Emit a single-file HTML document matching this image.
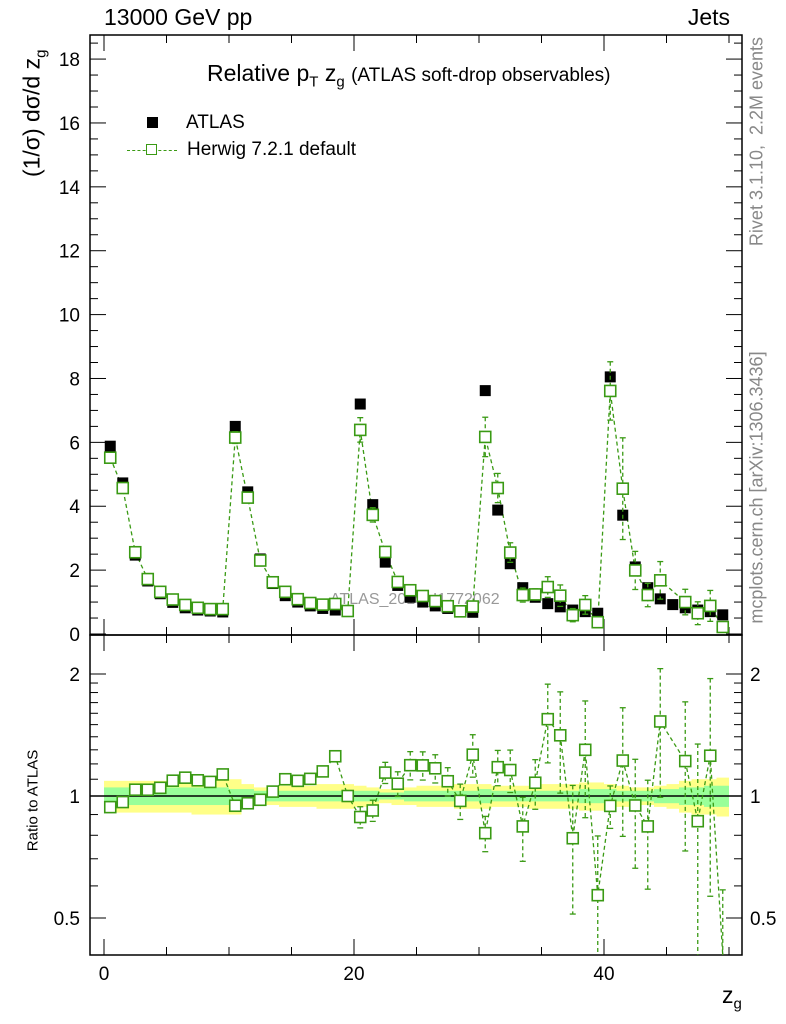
<!DOCTYPE html>
<html><head><meta charset="utf-8"><style>
html,body{margin:0;background:#fff;width:786px;height:1024px;overflow:hidden}
svg{display:block;font-family:"Liberation Sans",sans-serif}
</style></head><body>
<svg id="c" width="786" height="1024"></svg>
<script>
const bins=[];for(let i=0;i<50;i++)bins.push(i+0.5);
const atlas=[5.88,4.73,2.47,1.66,1.26,0.99,0.82,0.75,0.72,0.69,
6.5,4.45,2.35,1.58,1.2,1.0,0.88,0.8,0.75,0.72,
7.2,4.05,2.25,1.52,1.15,1.0,0.88,0.8,0.73,0.68,
7.62,3.88,2.2,1.45,1.15,0.95,0.85,0.75,0.7,0.65,
8.05,3.72,2.1,1.45,1.1,0.92,0.82,0.75,0.7,0.6];
const herwig=[5.52,4.57,2.56,1.72,1.32,1.08,0.91,0.82,0.78,0.78,
6.15,4.27,2.30,1.62,1.32,1.09,0.97,0.92,0.94,0.72,
6.39,3.73,2.57,1.63,1.37,1.19,1.03,0.87,0.71,0.86,
6.17,4.57,2.55,1.22,1.24,1.47,1.2,0.59,0.91,0.37,
7.61,4.55,1.99,1.22,1.68,null,1.0,0.65,0.88,0.22];
const herwigRelErr=[0.02,0.02,0.02,0.02,0.02,0.02,0.02,0.02,0.02,0.02,
0.03,0.03,0.03,0.03,0.03,0.03,0.03,0.03,0.03,0.03,
0.06,0.06,0.06,0.07,0.08,0.08,0.08,0.08,0.1,0.12,
0.1,0.1,0.12,0.18,0.14,0.22,0.28,0.35,0.32,0.4,
0.12,0.35,0.3,0.3,0.35,0,0.4,0.55,0.55,0.6];
const bandInner=[0.05,0.05,0.05,0.05,0.05,0.05,0.05,0.05,0.05,0.05,
0.04,0.04,0.03,0.03,0.03,0.03,0.03,0.03,0.03,0.03,
0.03,0.03,0.02,0.02,0.03,0.03,0.03,0.03,0.03,0.03,
0.04,0.03,0.03,0.03,0.03,0.03,0.03,0.03,0.04,0.04,
0.04,0.03,0.03,0.03,0.04,0.04,0.05,0.05,0.06,0.06];
const bandOuter=[0.09,0.09,0.09,0.09,0.09,0.09,0.09,0.1,0.1,0.1,
0.1,0.07,0.05,0.05,0.06,0.06,0.06,0.07,0.07,0.07,
0.06,0.05,0.04,0.05,0.05,0.06,0.06,0.06,0.07,0.07,
0.07,0.06,0.06,0.06,0.07,0.07,0.07,0.07,0.08,0.08,
0.07,0.06,0.05,0.05,0.06,0.07,0.09,0.1,0.1,0.11];
const yTicks=[0,2,4,6,8,10,12,14,16,18];
const xTicks=[0,20,40];
const rTicks=[0.5,1,2];

const svg=document.getElementById('c');
const NS='http://www.w3.org/2000/svg';
function mk(t,a,p){const e=document.createElementNS(NS,t);for(const k in a)e.setAttribute(k,a[k]);(p||svg).appendChild(e);return e;}
const L=90,R=742,T=35,M=635,B=955;
const X=v=>104+12.5*v;
const Y=v=>634-31.94*v;
const RY0=r=>796-122*Math.log2(r);
const RY=r=>Math.min(B,Math.max(M,RY0(r)));
const G='#3a9a14';
for(let i=0;i<50;i++){
 let r=mk('rect',{x:X(i),y:RY(1+bandOuter[i]),width:12.5,height:RY(1-bandOuter[i])-RY(1+bandOuter[i]),fill:'#ffff88'});
 
 let g=mk('rect',{x:X(i),y:RY(1+bandInner[i]),width:12.5,height:RY(1-bandInner[i])-RY(1+bandInner[i]),fill:'#99ff99'});
 
}
mk('line',{x1:L,x2:R,y1:RY(1),y2:RY(1),stroke:'#000','stroke-width':1.5});
const f1=mk('rect',{x:L,y:T,width:R-L,height:M-T,fill:'none',stroke:'#000','stroke-width':1.5});

const f2=mk('rect',{x:L,y:M,width:R-L,height:B-M,fill:'none',stroke:'#000','stroke-width':1.5});

for(let v=0;v<=18.7;v+=0.5){const maj=Math.abs(v%2)<1e-6;const len=maj?16:8;
 mk('line',{x1:L,x2:L+len,y1:Y(v),y2:Y(v),stroke:'#000'});mk('line',{x1:R-len,x2:R,y1:Y(v),y2:Y(v),stroke:'#000'});}
yTicks.forEach(v=>{const t=mk('text',{x:80,y:Y(v)+7,'text-anchor':'end','font-size':19});t.textContent=v;
 });
for(let v=0;v<=50;v+=5){const maj=v%20===0;const len=maj?16:8;
 [[M,-1],[B,-1],[T,1]].forEach(([y0,d])=>{mk('line',{x1:X(v),x2:X(v),y1:y0,y2:y0+d*len,stroke:'#000'});});
 mk('line',{x1:X(v),x2:X(v),y1:M,y2:M+len,stroke:'#000'});}
xTicks.forEach(v=>{const t=mk('text',{x:X(v),y:980,'text-anchor':'middle','font-size':19});t.textContent=v;
 });
[0.5,0.6,0.7,0.8,0.9,1,2].forEach(r=>{const maj=rTicks.includes(r);const len=maj?16:8;
 mk('line',{x1:L,x2:L+len,y1:RY(r),y2:RY(r),stroke:'#000'});mk('line',{x1:R-len,x2:R,y1:RY(r),y2:RY(r),stroke:'#000'});});
[1.1,1.2,1.3,1.4,1.5,1.6,1.7,1.8,1.9].forEach(r=>{mk('line',{x1:L,x2:L+8,y1:RY(r),y2:RY(r),stroke:'#000'});mk('line',{x1:R-8,x2:R,y1:RY(r),y2:RY(r),stroke:'#000'});});
rTicks.forEach(r=>{[[80,'end'],[750,'start']].forEach(([x,a])=>{const t=mk('text',{x:x,y:RY(r)+7,'text-anchor':a,'font-size':19});t.textContent=r;
 });});
const wm=mk('text',{x:330,y:604,'font-size':16,fill:'#999'});wm.textContent='ATLAS_2019_I1772062';

let pts=[],rpts=[];
bins.forEach((b,i)=>{if(herwig[i]!=null){pts.push(X(b)+','+Y(herwig[i]));rpts.push(X(b)+','+RY(herwig[i]/atlas[i]));}});
const hl=mk('polyline',{points:pts.join(' '),fill:'none',stroke:G,'stroke-width':1.3,'stroke-dasharray':'4,3'});

const clip=mk('clipPath',{id:'rc'});mk('rect',{x:L,y:M,width:R-L,height:B-M},clip);
const rg=mk('g',{'clip-path':'url(#rc)'});
const rl=mk('polyline',{points:rpts.join(' '),fill:'none',stroke:G,'stroke-width':1.3,'stroke-dasharray':'4,3'},rg);

bins.forEach((b,i)=>{const s=mk('rect',{x:X(b)-5.5,y:Y(atlas[i])-5.5,width:11,height:11,fill:'#000'});
 });
bins.forEach((b,i)=>{if(herwig[i]==null)return;const h=herwig[i],e=herwigRelErr[i]*h,r=h/atlas[i],re=herwigRelErr[i]*r;
 [[Y(h+e),Y(h-e),Y(h),svg,false],[RY(r+re),RY(Math.max(r-re,0.01)),RY0(r),rg,true]].forEach(([y1,y2,yc,p,isR])=>{
  mk('line',{x1:X(b),x2:X(b),y1:y1,y2:y2,stroke:G,'stroke-width':1.3,'stroke-dasharray':'4,3'},p);
  if(!isR||y1>M)mk('line',{x1:X(b)-3,x2:X(b)+3,y1:y1,y2:y1,stroke:G,'stroke-width':1.3},p);
  if(!isR||y2<B)mk('line',{x1:X(b)-3,x2:X(b)+3,y1:y2,y2:y2,stroke:G,'stroke-width':1.3},p);
  if(isR&&(yc>B||yc<M))return;
  const m=mk('rect',{x:X(b)-5.5,y:yc-5.5,width:11,height:11,fill:'#fff',stroke:G,'stroke-width':1.6},p);
  });});
</script>
<div style="position:absolute;left:0;top:0;width:786px;height:1024px;overflow:hidden;font-family:'Liberation Sans',sans-serif;pointer-events:none">
<div style="position:absolute;left:104px;top:4px;font-size:23px">13000 GeV pp</div>
<div style="position:absolute;right:56px;top:4px;font-size:23px">Jets</div>
<div style="position:absolute;left:207px;top:60px;font-size:23px;white-space:nowrap">Relative p<sub style="font-size:15px">T</sub> z<sub style="font-size:15px">g</sub> <span style="font-size:19px">(ATLAS soft-drop observables)</span></div>
<div style="position:absolute;left:147px;top:112px;font-size:19px"><span style="display:inline-block;width:11px;height:11px;background:#000;vertical-align:middle;margin-right:28px"></span>ATLAS</div>
<div style="position:absolute;left:127px;top:139px;font-size:19px;display:flex;align-items:center"><span style="position:relative;display:inline-block;width:50px;height:12px;margin-right:10px"><span style="position:absolute;left:0;right:0;top:6px;border-top:1.5px dashed #3a9a14"></span><span style="position:absolute;left:19px;top:0;width:9px;height:9px;border:1.6px solid #3a9a14;background:#fff"></span></span>Herwig 7.2.1 default</div>
<div style="position:absolute;left:-76px;top:98px;width:220px;text-align:center;font-size:23px;transform:rotate(-90deg);white-space:nowrap">(1/σ) dσ/d z<sub style="font-size:15px">g</sub></div>
<div style="position:absolute;left:-42px;top:792px;width:150px;text-align:center;font-size:15px;transform:rotate(-90deg)">Ratio to ATLAS</div>
<div style="position:absolute;left:722px;top:982px;font-size:23px;line-height:26px">z<sub style="font-size:15px;line-height:0">g</sub></div>
<div style="position:absolute;left:637px;top:131px;width:240px;text-align:center;font-size:18px;color:#888;transform:rotate(-90deg);white-space:nowrap">Rivet 3.1.10, &nbsp;2.2M events</div>
<div style="position:absolute;left:597px;top:477px;width:320px;text-align:center;font-size:18px;color:#888;transform:rotate(-90deg);white-space:nowrap">mcplots.cern.ch [arXiv:1306.3436]</div>
</div>
</body></html>
